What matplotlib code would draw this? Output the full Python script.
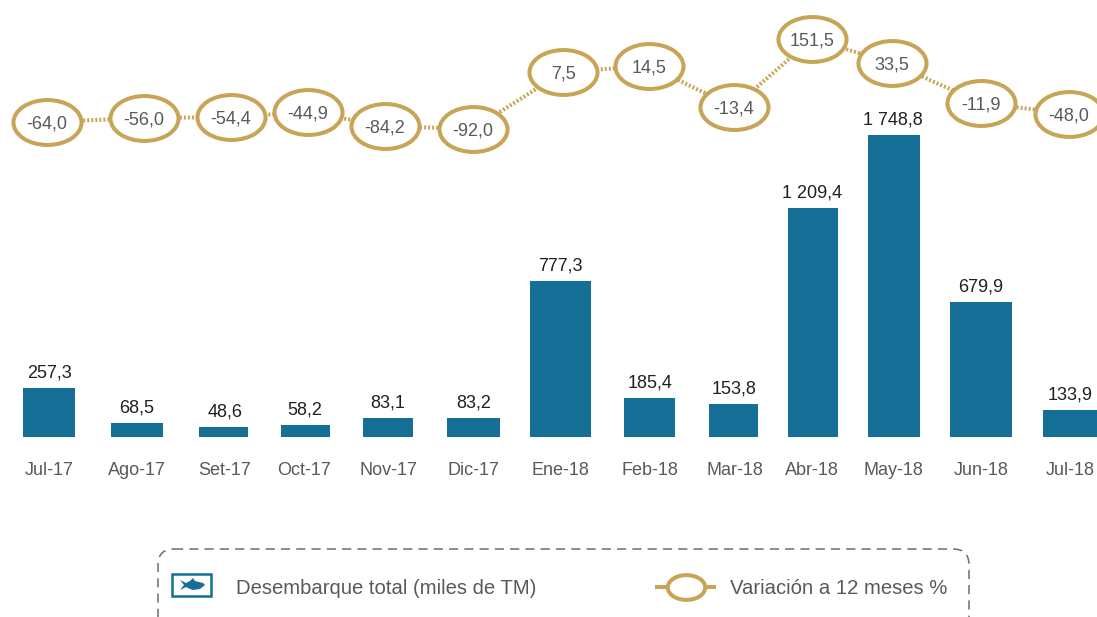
import numpy as np
import matplotlib
matplotlib.use("Agg")
import matplotlib.pyplot as plt
from matplotlib.path import Path
from matplotlib.patches import FancyBboxPatch, Rectangle, PathPatch
from matplotlib.lines import Line2D
from matplotlib.transforms import Affine2D

plt.rcParams['font.family'] = ['Liberation Sans', 'DejaVu Sans']

months = ['Jul-17', 'Ago-17', 'Set-17', 'Oct-17', 'Nov-17', 'Dic-17', 'Ene-18',
          'Feb-18', 'Mar-18', 'Abr-18', 'May-18', 'Jun-18', 'Jul-18']
landings = [257.3, 68.5, 48.6, 58.2, 83.1, 83.2, 777.3, 185.4, 153.8, 1209.4, 1748.8, 679.9, 133.9]
landing_labels = ['257,3', '68,5', '48,6', '58,2', '83,1', '83,2', '777,3', '185,4', '153,8',
                  '1 209,4', '1 748,8', '679,9', '133,9']
variation = [-64.0, -56.0, -54.4, -44.9, -84.2, -92.0, 7.5, 14.5, -13.4, 151.5, 33.5, -11.9, -48.0]
variation_labels = ['-64,0', '-56,0', '-54,4', '-44,9', '-84,2', '-92,0', '7,5', '14,5', '-13,4',
                    '151,5', '33,5', '-11,9', '-48,0']

W, H = 1097, 617
BLUE, GOLD, GREY, DARK = '#156F96', '#C8A456', '#58595B', '#231F20'
BASE_PX = 437
LEGEND_FS = 14.6
bar_w = [0.59, 0.59, 0.59, 0.6, 0.59, 0.62, 0.69, 0.58, 0.6, 0.63, 0.61, 0.7, 0.6]

# The reference's axes are hand-laid: monotone scale functions reproduce its spacing.
index_v = np.arange(-1, 14)
bar_x_p = [-40, 49, 136.5, 225, 304.5, 388, 473.5, 560.5, 650, 734.5, 812, 893, 981, 1070, 1160]
line_x_p = [-40, 47, 144, 231, 308, 385, 473, 563, 649, 734, 812, 892, 981, 1069, 1160]
bar_scale_v = [0, 48.6, 58.2, 68.5, 83.2, 133.9, 153.8, 185.4, 257.3, 679.9, 777.3, 1209.4, 1748.8, 4000]
bar_scale_p = [0, 10, 12, 14, 19, 27, 33, 39, 49, 135, 156, 229, 302, 437]
line_scale_v = [-200, -92, -84.2, -64, -56, -54.4, -44.9, -13.4, -11.9, 7.5, 14.5, 33.5, 151.5, 400]
line_scale_p = [0, 488, 491, 495, 499, 500, 505, 510, 514, 545, 551, 554, 578, 617]


def scale(vals, pix):
    return (lambda v: np.interp(v, vals, pix), lambda p: np.interp(p, pix, vals))


fig = plt.figure(figsize=(W / 100, H / 100), dpi=100, facecolor='white')
x = np.arange(len(months))

# bars
ax = fig.add_axes([0, 1 - BASE_PX / H, 1, BASE_PX / H])
fx = scale(index_v, bar_x_p)
ax.set_xscale('function', functions=fx)
ax.set_yscale('function', functions=scale(bar_scale_v, bar_scale_p))
ax.set_xlim(fx[1](0), fx[1](W))
ax.set_ylim(0, 4000)
ax.bar(x, landings, width=bar_w, color=BLUE)
for xi, v, t in zip(x, landings, landing_labels):
    ax.annotate(t, (xi, v), xytext=(0, 4.5), textcoords='offset points', ha='center', va='bottom',
                fontsize=13, color=DARK)
ax.set_xticks(x, months, fontsize=13, color=GREY)
ax.tick_params(axis='x', length=0, pad=18)
ax.xaxis.set_minor_locator(matplotlib.ticker.NullLocator())
ax.set_yticks([])
ax.yaxis.set_minor_locator(matplotlib.ticker.NullLocator())
for s in ax.spines.values():
    s.set_visible(False)
ax.patch.set_alpha(0)

# line
ax2 = fig.add_axes([0, 0, 1, 1])
fx2 = scale(index_v, line_x_p)
ax2.set_xscale('function', functions=fx2)
ax2.set_yscale('function', functions=scale(line_scale_v, line_scale_p))
ax2.set_xlim(fx2[1](0), fx2[1](W))
ax2.set_ylim(-200, 400)
ax2.axis('off')
ax2.patch.set_alpha(0)
ellipse = Path.unit_circle().transformed(Affine2D().scale(1, 0.66))
ax2.plot(x, variation, color=GOLD, lw=2.9, ls=(0, (0.5, 0.5)), dash_capstyle='butt', zorder=2)
ax2.plot(x, variation, ls='none', marker=ellipse, ms=49, mfc='white', mec=GOLD, mew=2.9, zorder=3)
for xi, v, t in zip(x, variation, variation_labels):
    ax2.annotate(t, (xi, v), ha='center', va='center_baseline', fontsize=13, color=GREY, zorder=4)

# legend, drawn in pixel coordinates of the figure
px = Affine2D().scale(1 / W, -1 / H).translate(0, 1) + fig.transFigure
fig.add_artist(FancyBboxPatch((158, 549), 811, 90, boxstyle='round,pad=0,rounding_size=16',
                              fc='none', ec='#6D6E71', lw=1.1, ls=(0, (6, 4)), transform=px,
                              mutation_scale=1))
fig.add_artist(Rectangle((172, 574), 39, 22, fc='white', ec=BLUE, lw=1.8, transform=px))
fish = Path([(180, 590), (184, 585), (180, 580), (186, 583), (190, 581), (193, 578), (195, 581),
             (203, 583), (205, 585), (200, 589), (193, 590), (190, 589), (186, 587), (180, 590)],
            closed=True)
fig.add_artist(PathPatch(fish, fc=BLUE, ec='none', transform=px))
fig.text(236 / W, 1 - 587 / H, 'Desembarque total (miles de TM)', fontsize=LEGEND_FS, color=GREY,
         ha='left', va='center_baseline')
fig.add_artist(Line2D([655 / W, 716 / W], [1 - 587 / H] * 2, color=GOLD, lw=2.9,
                      solid_capstyle='butt', transform=fig.transFigure))
fig.add_artist(Line2D([685.5 / W], [1 - 587 / H], marker=ellipse, ms=27, mfc='white', mec=GOLD, mew=2.9,
                      ls='none', transform=fig.transFigure))
fig.text(730 / W, 1 - 587 / H, 'Variación a 12 meses %', fontsize=LEGEND_FS, color=GREY,
         ha='left', va='center_baseline')

fig.savefig('out.png', dpi=100)
